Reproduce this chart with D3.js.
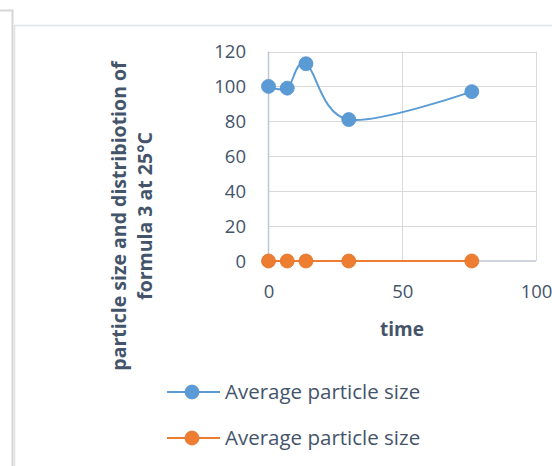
<!DOCTYPE html>
<html><head><meta charset="utf-8">
<script src="https://cdn.jsdelivr.net/npm/d3@7"></script>
<style>html,body{margin:0;padding:0;background:#fff;overflow:hidden}</style>
</head><body>
<svg id="c" width="552" height="466"></svg>
<script>
const times = [0, 7, 14, 30, 76];
const seriesBlue = [100, 99, 113, 81, 97];
const seriesOrange = [0, 0, 0, 0, 0];
const seriesNames = ["Average particle size", "Average particle size"];
const yTicks = [0, 20, 40, 60, 80, 100, 120];
const xTicks = [0, 50, 100];
const xTitle = "time";
const yTitleLines = ["particle size and distribiotion of", "formula 3 at 25°C"];

const svg = d3.select("#c");
const font = "Open Sans, sans-serif";
const textColor = "#44546a";

// frames
svg.append("path").attr("d","M0,10.5H12.5V466").attr("fill","none").attr("stroke","#d6d6d6").attr("stroke-width",2);
svg.append("path").attr("d","M14.5,466V25.5H552").attr("fill","none").attr("stroke","#dfe3e8").attr("stroke-width",1.5);

const x = d3.scaleLinear().domain([0,100]).range([268.5,536]);
const y = d3.scaleLinear().domain([0,120]).range([261,51.5]);

const g = svg.append("g");
g.selectAll(".hg").data(yTicks.filter(d=>d>0)).join("line")
 .attr("x1",x(0)).attr("x2",x(100)).attr("y1",d=>Math.round(y(d))+0.5).attr("y2",d=>Math.round(y(d))+0.5)
 .attr("stroke","#d9d9d9").attr("stroke-width",1);
g.selectAll(".vg").data(xTicks.filter(d=>d>0)).join("line")
 .attr("y1",y(0)).attr("y2",y(120)).attr("x1",d=>Math.round(x(d))+0.5).attr("x2",d=>Math.round(x(d))+0.5)
 .attr("stroke","#d9d9d9").attr("stroke-width",1);
g.append("line").attr("x1",x(0)).attr("x2",x(0)).attr("y1",y(0)).attr("y2",y(120)).attr("stroke","#bfc6d0").attr("stroke-width",1.5);
g.append("line").attr("x1",x(0)).attr("x2",x(100)).attr("y1",y(0)).attr("y2",y(0)).attr("stroke","#bfc6d0").attr("stroke-width",1.5);

const yAxis = d3.axisLeft(y).tickValues(yTicks).tickSize(0).tickPadding(0);
const ya = svg.append("g").attr("transform","translate(246,0)").call(yAxis);
ya.select(".domain").remove();
ya.selectAll("text").attr("font-family",font).attr("font-size",18.5).attr("fill",textColor).attr("dy","0.35em");

const xAxis = d3.axisBottom(x).tickValues(xTicks).tickSize(0).tickPadding(0);
const xa = svg.append("g").attr("transform","translate(0,281)").call(xAxis);
xa.select(".domain").remove();
xa.selectAll("text").attr("font-family",font).attr("font-size",18.5).attr("fill",textColor).attr("dy","0.9em");

svg.append("text").attr("x",402).attr("y",336).attr("text-anchor","middle")
 .attr("font-family",font).attr("font-size",19).attr("font-weight","bold").attr("fill",textColor).text(xTitle);
const yt = svg.append("g");
yTitleLines.forEach((t,i)=>{
  yt.append("text").attr("transform",`translate(${126+i*26},216) rotate(-90)`).attr("text-anchor","middle")
   .attr("font-family",font).attr("font-size",19.5).attr("font-weight","bold").attr("fill",textColor).text(t);
});

const lineSmooth = d3.line().x((d,i)=>x(times[i])).y(d=>y(d)).curve(d3.curveCardinal.tension(0));
const lineStraight = d3.line().x((d,i)=>x(times[i])).y(d=>y(d));
const blue = "#5b9bd5", orange = "#ed7d31";
g.append("path").attr("d",lineSmooth(seriesBlue)).attr("fill","none").attr("stroke",blue).attr("stroke-width",2);
g.append("path").attr("d",lineStraight(seriesOrange)).attr("fill","none").attr("stroke",orange).attr("stroke-width",2);
g.selectAll(".bm").data(seriesBlue).join("circle").attr("cx",(d,i)=>x(times[i])).attr("cy",d=>y(d)).attr("r",7)
 .attr("fill",blue).attr("stroke","#4f8fcc").attr("stroke-width",0.75);
g.selectAll(".om").data(seriesOrange).join("circle").attr("cx",(d,i)=>x(times[i])).attr("cy",d=>y(d)).attr("r",7)
 .attr("fill",orange).attr("stroke","#e07025").attr("stroke-width",0.75);

const leg = svg.append("g");
[[blue,"#4f8fcc",392],[orange,"#e07025",438]].forEach((c,i)=>{
  leg.append("line").attr("x1",167).attr("x2",220).attr("y1",c[2]).attr("y2",c[2]).attr("stroke",c[0]).attr("stroke-width",2);
  leg.append("circle").attr("cx",192).attr("cy",c[2]).attr("r",7).attr("fill",c[0]).attr("stroke",c[1]).attr("stroke-width",0.75);
  leg.append("text").attr("x",225).attr("y",c[2]+7).attr("font-family",font).attr("font-size",20.5).attr("fill",textColor).text(seriesNames[i]);
});
</script>
</body></html>
